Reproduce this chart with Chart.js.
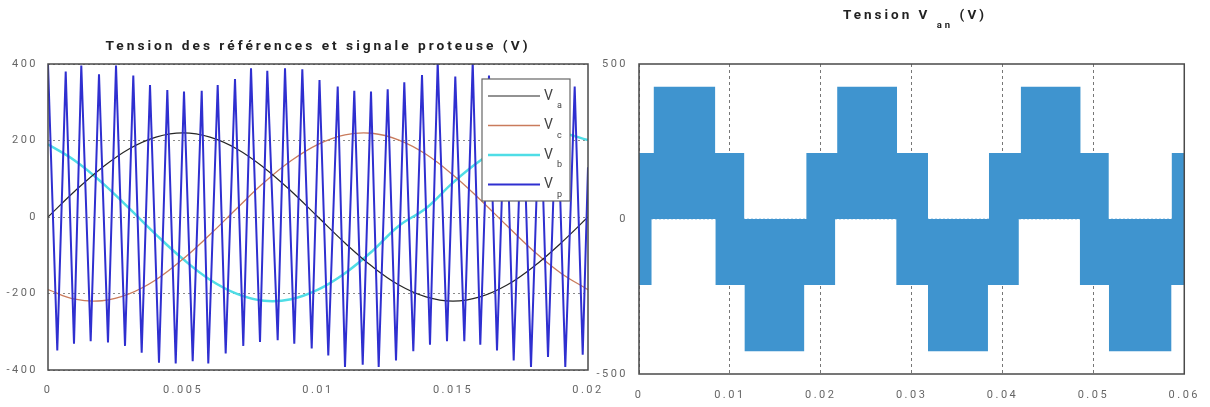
<!DOCTYPE html>
<html>
<head>
<meta charset="utf-8">
<script src="https://cdn.jsdelivr.net/npm/chart.js@4/dist/chart.umd.min.js"></script>
<style>
  body { margin: 0; background: #fff; width: 1210px; height: 407px; overflow: hidden; position: relative; }
  canvas { position: absolute; top: 0; }
  #left { left: 0; }
  #right { left: 580px; }
</style>
</head>
<body>
<canvas id="left" width="620" height="407"></canvas>
<canvas id="right" width="630" height="407"></canvas>
<script>
// reference sines, read every 1 ms
const refTime = [0, 0.001, 0.002, 0.003, 0.004, 0.005, 0.006, 0.007, 0.008, 0.009, 0.01,
  0.011, 0.012, 0.013, 0.014, 0.015, 0.016, 0.017, 0.018, 0.019, 0.02];
const va = [0, 68, 129, 178, 209, 220, 209, 178, 129, 68, 0, -68, -129, -178, -209, -220, -209, -178, -129, -68, 0];
const vc = [-190, -215, -219, -201, -164, -110, -46, 23, 90, 147, 190, 215, 219, 201, 164, 110, 46, -23, -90, -147, -190];
const vb = [190, 147, 90, 23, -46, -110, -164, -201, -219, -215, -190, -147, -90, -23, 23, 90, 147, 190, 215, 219, 201];

// carrier (triangle) vertices
const carrierT = [0, 0.000344, 0.000656, 0.000963, 0.001233, 0.001581, 0.001889, 0.002222, 0.002519,
  0.002852, 0.003159, 0.00347, 0.003778, 0.004111, 0.004419, 0.00473, 0.005037, 0.005359, 0.005693,
  0.005937, 0.006285, 0.006581, 0.006926, 0.007233, 0.007519, 0.007852, 0.008122, 0.008507, 0.008778,
  0.009122, 0.009419, 0.009767, 0.010056, 0.010381, 0.01073, 0.011, 0.011344, 0.011656, 0.011963,
  0.012248, 0.012581, 0.012889, 0.013196, 0.01353, 0.013852, 0.014148, 0.014433, 0.014778, 0.015085,
  0.015419, 0.01573, 0.016011, 0.016333, 0.01663, 0.016944, 0.017248, 0.017574, 0.017889, 0.018222,
  0.018519, 0.018852, 0.019159, 0.019507, 0.019804, 0.02];
const carrierV = [400, -349, 380, -331, 396, -325, 373, -328, 396, -337, 370, -355, 345, -381, 332, -383,
  328, -377, 330, -383, 345, -357, 361, -337, 389, -327, 382, -322, 389, -331, 386, -344, 358, -362,
  341, -392, 330, -386, 328, -392, 334, -375, 352, -351, 371, -334, 405, -325, 367, -325, 405, -334,
  370, -349, 350, -375, 335, -392, 330, -366, 332, -392, 341, -360, 130];

// Van switching envelopes: [start, end] in s
const levelMid = 213;
const levelTop = 427;
const posMidBands = [[0, 0.0116], [0.0184, 0.0318], [0.0385, 0.0517], [0.0586, 0.06]];
const posTopBands = [[0.0016, 0.0084], [0.0218, 0.0284], [0.042, 0.0486]];
const negMidBands = [[0, 0.0014], [0.0084, 0.0216], [0.0283, 0.0418], [0.0485, 0.06]];
const negLowBands = [[0.0116, 0.0182], [0.0318, 0.0384], [0.0517, 0.0586]];

const FONT = 'Roboto';
const pts = (ts, vs) => ts.map((t, i) => ({ x: t, y: vs[i] }));

const spacing = {
  id: 'spacing',
  beforeDraw(chart) { chart.ctx.letterSpacing = '2.5px'; },
};

function drawFrame(chart) {
  const { ctx, chartArea: a } = chart;
  ctx.save();
  ctx.strokeStyle = '#4a4a4a';
  ctx.lineWidth = 1.5;
  ctx.strokeRect(a.left, a.top, a.right - a.left, a.bottom - a.top);
  ctx.restore();
}

const leftDeco = {
  id: 'leftDeco',
  afterDraw(chart) {
    const ctx = chart.ctx;
    drawFrame(chart);
    // legend box
    ctx.save();
    ctx.fillStyle = '#fff';
    ctx.strokeStyle = '#666';
    ctx.lineWidth = 1.2;
    ctx.fillRect(482, 79, 88, 122);
    ctx.strokeRect(482, 79, 88, 122);
    const order = ['a', 'c', 'b', 'p'];
    order.forEach((name, i) => {
      const ds = chart.data.datasets.find(d => d.label === name);
      const y = 96 + i * 29.5;
      ctx.strokeStyle = ds.borderColor;
      ctx.lineWidth = ds.borderWidth;
      ctx.beginPath();
      ctx.moveTo(488, y);
      ctx.lineTo(540, y);
      ctx.stroke();
      ctx.letterSpacing = '0px';
      ctx.fillStyle = '#444';
      ctx.textBaseline = 'middle';
      ctx.textAlign = 'left';
      ctx.font = '14px ' + FONT;
      ctx.fillText('V', 544, y);
      ctx.font = '9px ' + FONT;
      ctx.fillText(name, 557, y + 10);
    });
    // title
    ctx.letterSpacing = '3px';
    ctx.fillStyle = '#222';
    ctx.font = 'bold 13.7px ' + FONT;
    ctx.textAlign = 'center';
    ctx.textBaseline = 'middle';
    ctx.fillText('Tension des références et signale proteuse (V)', 318, 47);
    ctx.restore();
  },
};

const rightDeco = {
  id: 'rightDeco',
  afterDraw(chart) {
    const ctx = chart.ctx;
    drawFrame(chart);
    ctx.save();
    ctx.fillStyle = '#222';
    ctx.textBaseline = 'middle';
    ctx.textAlign = 'left';
    ctx.letterSpacing = '3px';
    const main = 'Tension V', sub = 'an', tail = ' (V)';
    ctx.font = 'bold 13.5px ' + FONT;
    const w1 = ctx.measureText(main + ' ').width;
    const w3 = ctx.measureText(tail).width;
    ctx.font = 'bold 9.5px ' + FONT;
    const w2 = ctx.measureText(sub).width;
    let x = 335 - (w1 + w2 + w3) / 2;
    ctx.font = 'bold 13.5px ' + FONT;
    ctx.fillText(main, x, 16);
    x += w1;
    ctx.font = 'bold 9.5px ' + FONT;
    ctx.fillText(sub, x, 26);
    x += w2;
    ctx.font = 'bold 13.5px ' + FONT;
    ctx.fillText(tail, x, 16);
    ctx.restore();
  },
};

const tickFont = { family: FONT, size: 11 };

new Chart(document.getElementById('left'), {
  type: 'line',
  data: {
    datasets: [
      { label: 'p', data: pts(carrierT, carrierV), borderColor: '#2f2fd0', borderWidth: 2, order: 0 },
      { label: 'a', data: pts(refTime, va), borderColor: '#262626', borderWidth: 1.2, tension: 0.4, order: 1 },
      { label: 'c', data: pts(refTime, vc), borderColor: '#c97b5c', borderWidth: 1.3, tension: 0.4, order: 2 },
      { label: 'b', data: pts(refTime, vb), borderColor: '#4fdde6', borderWidth: 2.5, tension: 0.4, order: 3 },
    ],
  },
  options: {
    responsive: false,
    animation: false,
    elements: { point: { radius: 0 } },
    layout: { padding: { top: 64, right: 32, left: 0, bottom: 0 } },
    plugins: { legend: { display: false }, tooltip: { enabled: false } },
    scales: {
      x: {
        type: 'linear', min: 0, max: 0.02,
        ticks: { stepSize: 0.005, color: '#666', font: tickFont, padding: 14, maxRotation: 0,
          callback: v => String(+v.toFixed(3)) },
        grid: { display: false, drawTicks: false },
        border: { display: false },
        afterFit(s) { s.height = 37; },
      },
      y: {
        min: -400, max: 400,
        ticks: { stepSize: 200, color: '#666', font: tickFont, padding: 10 },
        grid: { color: '#8a8a8a', drawTicks: false },
        border: { display: false, dash: [2, 3] },
        afterFit(s) { s.width = 48; },
      },
    },
  },
  plugins: [spacing, leftDeco],
});

const bandColor = '#3f94cf';
const band = (seg, lo, hi) => ({
  data: [{ x: seg[0], y: hi }, { x: seg[1], y: hi }],
  borderWidth: 0,
  backgroundColor: bandColor,
  fill: { value: lo },
});

new Chart(document.getElementById('right'), {
  type: 'line',
  data: {
    datasets: [
      ...posMidBands.map(s => band(s, 0, levelMid)),
      ...posTopBands.map(s => band(s, levelMid, levelTop)),
      ...negMidBands.map(s => band(s, 0, -levelMid)),
      ...negLowBands.map(s => band(s, -levelMid, -levelTop)),
      { data: [{ x: 0, y: 0 }, { x: 0.06, y: 0 }], borderColor: '#8fc3e8', borderWidth: 1, borderDash: [2, 2] },
    ],
  },
  options: {
    responsive: false,
    animation: false,
    elements: { point: { radius: 0 } },
    layout: { padding: { top: 64, right: 22, left: 0, bottom: 0 } },
    plugins: { legend: { display: false }, tooltip: { enabled: false } },
    scales: {
      x: {
        type: 'linear', min: 0, max: 0.06,
        ticks: { stepSize: 0.01, color: '#666', font: tickFont, padding: 15, maxRotation: 0,
          callback: v => String(+v.toFixed(2)) },
        grid: { color: '#777', drawTicks: false },
        border: { display: false, dash: [3, 3] },
        afterFit(s) { s.height = 33; },
      },
      y: {
        min: -500, max: 500,
        ticks: { stepSize: 500, color: '#666', font: tickFont, padding: 11 },
        grid: { display: false, drawTicks: false },
        border: { display: false },
        afterFit(s) { s.width = 59; },
      },
    },
  },
  plugins: [spacing, rightDeco],
});
</script>
</body>
</html>
